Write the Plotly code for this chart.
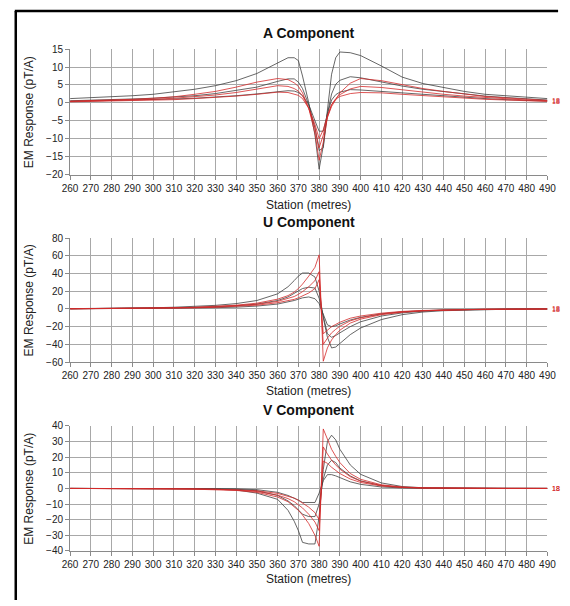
import plotly.graph_objects as go

# ---------------- data ----------------
stations = [260, 270, 280, 290, 300, 310, 320, 330, 340, 350, 360, 365, 368, 370, 372, 375, 378,
            380, 382, 384, 386, 388, 390, 395, 400, 410, 420, 430, 440, 450, 460, 470, 480, 490]

# A component
a_black1 = [1.2, 1.4, 1.6, 2.0, 2.4, 3.0, 3.8, 4.8, 6.2, 8.2, 11.2, 12.6, 12.6, 11.8, 7.5, 0.0, -9.0,
            -18.5, -12.0, -2.0, 8.0, 12.6, 14.2, 14.0, 13.2, 10.3, 7.2, 5.4, 4.2, 3.2, 2.4, 2.0, 1.6, 1.2]
a_black2 = [0.6, 0.7, 0.9, 1.1, 1.3, 1.6, 2.0, 2.6, 3.4, 4.4, 6.0, 6.7, 6.7, 5.8, 4.0, -0.5, -7.0,
            -13.3, -12.5, -3.0, 2.5, 5.2, 6.3, 7.3, 7.0, 5.8, 4.7, 3.8, 3.1, 2.5, 1.9, 1.5, 1.1, 0.8]
a_black3 = [0.4, 0.5, 0.6, 0.7, 0.9, 1.1, 1.3, 1.6, 2.0, 2.5, 3.1, 3.4, 3.3, 2.9, 2.0, -0.5, -5.0,
            -7.9, -7.9, -3.0, 0.8, 2.3, 3.0, 3.7, 3.6, 3.2, 2.7, 2.2, 1.8, 1.5, 1.2, 0.9, 0.7, 0.5]
a_red1 = [0.5, 0.6, 0.8, 1.0, 1.3, 1.7, 2.4, 3.2, 4.4, 5.8, 6.8, 6.5, 5.6, 4.6, 2.8, -1.5, -8.5,
          -16.0, -11.0, -4.0, -1.0, 1.0, 2.8, 5.5, 6.8, 6.2, 5.0, 4.0, 3.2, 2.4, 1.8, 1.4, 1.0, 0.7]
a_red2 = [0.4, 0.5, 0.6, 0.8, 1.0, 1.3, 1.7, 2.2, 2.9, 3.8, 4.8, 4.6, 4.0, 3.3, 2.0, -1.5, -7.0,
          -12.5, -9.0, -4.0, -0.5, 1.2, 2.3, 3.9, 4.6, 4.3, 3.6, 3.0, 2.4, 1.9, 1.5, 1.1, 0.8, 0.6]
a_red3 = [0.3, 0.4, 0.5, 0.6, 0.7, 0.9, 1.2, 1.5, 1.9, 2.4, 3.0, 2.9, 2.5, 2.1, 1.2, -1.5, -6.0,
          -10.0, -7.5, -3.5, -0.5, 1.0, 1.8, 2.6, 2.9, 2.8, 2.4, 2.0, 1.6, 1.3, 1.0, 0.8, 0.5, 0.4]

# U component
u_black1 = [0.3, 0.4, 0.6, 0.9, 1.3, 1.9, 2.8, 4.0, 6.0, 9.5, 17.0, 25.0, 32.0, 37.0, 40.5, 40.5, 36.0,
            20.0, -10.0, -32.0, -44.0, -43.0, -39.0, -29.0, -21.5, -12.0, -6.5, -3.5, -2.0, -1.2, -0.7, -0.4, -0.2, -0.1]
u_black2 = [0.2, 0.3, 0.4, 0.6, 0.8, 1.2, 1.7, 2.4, 3.5, 5.5, 9.5, 13.5, 17.5, 20.5, 23.0, 24.5, 23.5,
            12.0, -8.0, -28.0, -32.0, -30.0, -27.0, -20.0, -14.5, -8.0, -4.5, -2.5, -1.4, -0.8, -0.5, -0.3, -0.2, -0.1]
u_black3 = [0.1, 0.2, 0.3, 0.4, 0.5, 0.7, 1.0, 1.4, 2.0, 3.2, 5.5, 7.5, 9.5, 11.0, 12.5, 13.5, 11.5,
            6.0, -5.0, -18.0, -20.0, -19.0, -17.0, -12.5, -9.5, -5.5, -3.2, -1.8, -1.0, -0.6, -0.4, -0.2, -0.1, 0.0]
u_red1 = [0.2, 0.3, 0.4, 0.6, 0.9, 1.3, 1.9, 2.8, 4.2, 6.5, 11.0, 15.0, 19.0, 23.0, 28.0, 37.0, 47.0,
          61.0, -59.0, -44.0, -35.0, -29.0, -24.0, -16.0, -11.5, -6.5, -3.8, -2.2, -1.3, -0.8, -0.5, -0.3, -0.2, -0.1]
u_red2 = [0.2, 0.3, 0.4, 0.5, 0.7, 1.0, 1.5, 2.3, 3.5, 5.2, 8.5, 11.5, 14.0, 16.5, 19.5, 25.0, 32.0,
          42.0, -40.0, -33.0, -27.0, -23.0, -19.5, -13.5, -10.0, -5.8, -3.4, -2.0, -1.2, -0.7, -0.4, -0.3, -0.2, -0.1]
u_red3 = [0.1, 0.2, 0.3, 0.4, 0.6, 0.8, 1.2, 1.8, 2.8, 4.2, 7.0, 9.0, 10.8, 12.5, 14.5, 18.0, 23.0,
          33.0, -28.0, -24.0, -20.0, -17.5, -15.0, -10.5, -8.0, -4.8, -2.8, -1.7, -1.0, -0.6, -0.4, -0.2, -0.1, 0.0]

# V component
v_black1 = [0.0, 0.0, 0.0, 0.0, 0.0, -0.1, -0.2, -0.5, -1.0, -3.0, -7.0, -14.0, -21.0, -27.0, -34.5, -35.5, -35.5,
            -18.0, 12.0, 30.0, 34.0, 31.0, 25.0, 15.0, 9.0, 3.5, 1.2, 0.4, 0.2, 0.1, 0.0, 0.0, 0.0, 0.0]
v_black2 = [0.0, 0.0, 0.0, 0.0, 0.0, -0.1, -0.1, -0.3, -0.5, -1.5, -4.5, -8.0, -11.0, -13.5, -16.5, -18.0, -18.0,
            -10.0, 6.0, 15.0, 18.0, 16.5, 13.0, 8.0, 4.8, 1.8, 0.6, 0.2, 0.1, 0.0, 0.0, 0.0, 0.0, 0.0]
v_black3 = [0.0, 0.0, 0.0, 0.0, 0.0, 0.0, -0.1, -0.2, -0.3, -0.8, -2.5, -4.5, -6.0, -7.5, -9.0, -9.2, -9.0,
            -3.0, 5.0, 8.8, 8.8, 8.0, 6.8, 4.2, 2.6, 0.9, 0.3, 0.1, 0.0, 0.0, 0.0, 0.0, 0.0, 0.0]
v_red1 = [0.0, 0.0, 0.0, 0.0, -0.2, -0.3, -0.5, -0.8, -1.3, -2.5, -5.5, -8.5, -11.5, -14.0, -17.0, -22.5, -30.0,
          -37.0, 38.0, 31.0, 25.0, 20.5, 16.5, 9.5, 5.8, 2.3, 0.9, 0.4, 0.2, 0.1, 0.0, 0.0, 0.0, 0.0]
v_red2 = [0.0, 0.0, 0.0, 0.0, -0.1, -0.2, -0.4, -0.6, -1.0, -2.0, -4.3, -6.5, -8.5, -10.5, -12.5, -16.5, -21.5,
          -27.0, 26.5, 22.0, 18.0, 15.0, 12.3, 7.5, 4.6, 1.9, 0.7, 0.3, 0.1, 0.0, 0.0, 0.0, 0.0, 0.0]
v_red3 = [0.0, 0.0, 0.0, 0.0, -0.1, -0.2, -0.3, -0.5, -0.8, -1.5, -3.2, -4.8, -6.2, -7.6, -9.2, -12.0, -15.5,
          -20.0, 17.5, 16.0, 13.5, 11.5, 9.5, 6.0, 3.8, 1.5, 0.6, 0.2, 0.1, 0.0, 0.0, 0.0, 0.0, 0.0]

x_ticks = list(range(260, 491, 10))
titles = ["A Component", "U Component", "V Component"]
y_title = "EM Response (pT/A)"
x_title = "Station (metres)"
end_label = "18"

# ---------------- figure ----------------
W, H = 570, 606
BLACK = "#404040"
RED = "#d42a2a"
FONT = "Liberation Sans, Arial, sans-serif"

def py(px):
    return 1 - px / H

def pxx(px):
    return px / W

panels = [
    dict(series=[a_black1, a_black2, a_black3, a_red1, a_red2, a_red3], yr=[-20, 15], dt=5,
         top=44, bot=172, title_y=28, xt_y=203),
    dict(series=[u_black1, u_black2, u_black3, u_red1, u_red2, u_red3], yr=[-60, 80], dt=20,
         top=236.7, bot=363.3, title_y=220, xt_y=393),
    dict(series=[v_black1, v_black2, v_black3, v_red1, v_red2, v_red3], yr=[-40, 40], dt=10,
         top=428.3, bot=556, title_y=412, xt_y=585),
]

fig = go.Figure()
layout = dict(width=W, height=H, margin=dict(l=0, r=0, t=0, b=0),
              paper_bgcolor="white", plot_bgcolor="white", showlegend=False,
              font=dict(family=FONT, color="#222", size=10))
annotations = []
x0, x1 = 64, 556

for i, p in enumerate(panels):
    k = "" if i == 0 else str(i + 1)
    xa, ya = "x" + k, "y" + k
    for j, s in enumerate(p["series"]):
        fig.add_trace(go.Scatter(x=stations, y=s, mode="lines", xaxis=xa, yaxis=ya,
                                 line=dict(color=BLACK if j < 3 else RED, width=0.8),
                                 hoverinfo="skip"))
    axis_common = dict(showgrid=True, gridcolor="#a8a8a8", gridwidth=1, zeroline=False,
                       showline=True, linecolor="#8a8a8a", linewidth=1,
                       ticks="outside", ticklen=4, tickcolor="#8a8a8a",
                       tickfont=dict(size=10, family=FONT, color="#222"))
    layout["xaxis" + k] = dict(axis_common, domain=[pxx(x0), pxx(x1)], range=[260, 490],
                               tickvals=x_ticks, anchor=ya)
    layout["yaxis" + k] = dict(axis_common, domain=[py(p["bot"]), py(p["top"])], range=p["yr"],
                               dtick=p["dt"], anchor=xa)
    annotations.append(dict(text="<b>" + titles[i] + "</b>", x=pxx((x0 + x1) / 2), y=py(p["title_y"]),
                            xref="paper", yref="paper", showarrow=False,
                            font=dict(size=14, family=FONT, color="#111"), xanchor="center", yanchor="middle"))
    annotations.append(dict(text=x_title, x=pxx((x0 + x1) / 2), y=py(p["xt_y"]),
                            xref="paper", yref="paper", showarrow=False,
                            font=dict(size=12, family=FONT, color="#222"), xanchor="center", yanchor="middle"))
    annotations.append(dict(text=y_title, x=pxx(22), y=py((p["top"] + p["bot"]) / 2),
                            xref="paper", yref="paper", showarrow=False, textangle=-90,
                            font=dict(size=12, family=FONT, color="#222"), xanchor="center", yanchor="middle"))
    # end-of-series labels
    for j in (3, 5):
        annotations.append(dict(text=end_label, x=490, y=p["series"][j][-1], xref=xa, yref=ya,
                                showarrow=False, xanchor="left", xshift=3,
                                font=dict(size=7, family=FONT, color=RED)))

layout["annotations"] = annotations
layout["shapes"] = [
    dict(type="line", xref="paper", yref="paper", x0=pxx(8), x1=pxx(8), y0=py(5), y1=0,
         line=dict(color="black", width=2.5)),
    dict(type="line", xref="paper", yref="paper", x0=pxx(7), x1=pxx(567), y0=py(5), y1=py(5),
         line=dict(color="black", width=2.5)),
]
fig.update_layout(**layout)
fig.write_html("out.html", config={"displayModeBar": False, "staticPlot": True},
               post_script="document.body.style.margin='0';document.body.style.overflow='hidden';")
